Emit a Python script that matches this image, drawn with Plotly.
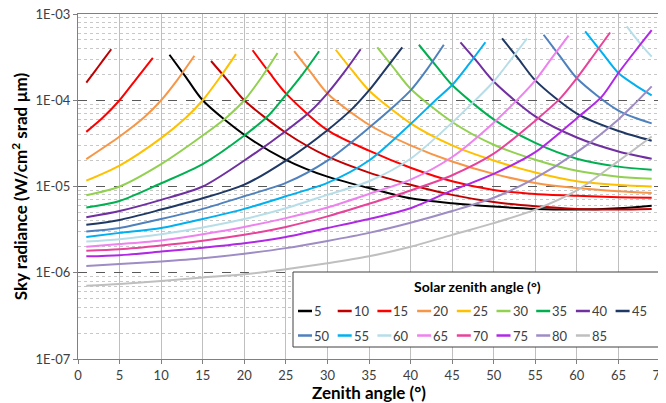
import plotly.graph_objects as go

# ---------------- data ----------------
x_tickvals = [0, 5, 10, 15, 20, 25, 30, 35, 40, 45, 50, 55, 60, 65, 70]
y_tickvals = [1e-7, 1e-6, 1e-5, 1e-4, 1e-3]
y_ticktext = ["1E-07", "1E-06", "1E-05", "1E-04", "1E-03"]

solar_zenith = [5, 10, 15, 20, 25, 30, 35, 40, 45, 50, 55, 60, 65, 70, 75, 80, 85]
line_colors = ["#000000", "#C00000", "#FF0000", "#F79646", "#FFC000", "#92D050",
               "#00B050", "#7030A0", "#1F3864", "#4F81BD", "#00B0F0", "#B7DEE8",
               "#EE82EE", "#E8439A", "#B028E6", "#9E8CC4", "#BFBFBF"]

# rising branches (view zenith below the sun)
rise_x_10 = [1, 2, 3, 4]
rise_y_10 = [1.6e-4, 2.15e-4, 2.9e-4, 3.9e-4]
rise_x_15 = [1, 3, 5, 7, 9]
rise_y_15 = [4.3e-5, 6.3e-5, 1.0e-4, 1.76e-4, 3.1e-4]
rise_x_20 = [1, 5, 8, 10, 12, 14]
rise_y_20 = [2.08e-5, 3.8e-5, 6.4e-5, 1.0e-4, 1.75e-4, 3.28e-4]
rise_x_25 = [1, 5, 10, 13, 15, 17, 19]
rise_y_25 = [1.17e-5, 1.75e-5, 3.64e-5, 6.3e-5, 1.0e-4, 1.8e-4, 3.43e-4]
rise_x_30 = [1, 5, 10, 15, 18, 20, 22, 24]
rise_y_30 = [7.9e-6, 1.0e-5, 1.82e-5, 3.9e-5, 6.5e-5, 1.0e-4, 1.8e-4, 3.53e-4]
rise_x_35 = [1, 5, 10, 15, 20, 23, 25, 27, 29]
rise_y_35 = [5.7e-6, 6.8e-6, 1.09e-5, 1.82e-5, 3.9e-5, 6.8e-5, 1.15e-4, 2.0e-4, 3.7e-4]
rise_x_40 = [1, 5, 10, 15, 20, 25, 28, 30, 32, 34]
rise_y_40 = [4.4e-6, 5.2e-6, 7.0e-6, 1.0e-5, 2.0e-5, 4.4e-5, 7.5e-5, 1.2e-4, 2.1e-4, 3.9e-4]
rise_x_45 = [1, 5, 10, 15, 20, 25, 30, 33, 35, 37, 39]
rise_y_45 = [3.6e-6, 4.1e-6, 5.4e-6, 7.3e-6, 1.05e-5, 2.0e-5, 4.5e-5, 8.0e-5, 1.3e-4, 2.3e-4, 4.1e-4]
rise_x_50 = [1, 5, 10, 15, 20, 25, 30, 35, 38, 40, 42, 44]
rise_y_50 = [3.0e-6, 3.3e-6, 4.2e-6, 5.5e-6, 7.7e-6, 1.1e-5, 2.0e-5, 4.8e-5, 8.5e-5, 1.3e-4, 2.3e-4, 4.4e-4]
rise_x_55 = [1, 5, 10, 15, 20, 25, 30, 35, 40, 43, 45, 47, 49]
rise_y_55 = [2.6e-6, 2.9e-6, 3.3e-6, 4.2e-6, 5.5e-6, 7.7e-6, 1.1e-5, 2.0e-5, 5.3e-5, 1.0e-4, 1.5e-4, 2.6e-4, 4.7e-4]
rise_x_60 = [1, 5, 10, 15, 20, 25, 30, 35, 40, 45, 48, 50, 52, 54]
rise_y_60 = [2.3e-6, 2.45e-6, 2.8e-6, 3.35e-6, 4.2e-6, 5.6e-6, 8.0e-6, 1.15e-5, 2.1e-5, 5.5e-5, 1.05e-4, 1.65e-4, 2.9e-4, 5.2e-4]
rise_x_65 = [1, 5, 10, 15, 20, 25, 30, 35, 40, 45, 50, 53, 55, 57, 59]
rise_y_65 = [2.0e-6, 2.15e-6, 2.37e-6, 2.8e-6, 3.4e-6, 4.3e-6, 5.7e-6, 8.2e-6, 1.2e-5, 2.2e-5, 5.5e-5, 1.05e-4, 1.7e-4, 3.1e-4, 5.6e-4]
rise_x_70 = [1, 5, 10, 15, 20, 25, 30, 35, 40, 45, 50, 55, 58, 60, 62, 64]
rise_y_70 = [1.8e-6, 1.87e-6, 2.07e-6, 2.35e-6, 2.75e-6, 3.4e-6, 4.5e-6, 6.3e-6, 9.0e-6, 1.35e-5, 2.4e-5, 5.8e-5, 1.05e-4, 1.8e-4, 3.3e-4, 6.1e-4]
rise_x_75 = [1, 5, 10, 15, 20, 25, 30, 35, 40, 45, 50, 55, 60, 63, 65, 67, 69]
rise_y_75 = [1.55e-6, 1.6e-6, 1.76e-6, 1.95e-6, 2.2e-6, 2.6e-6, 3.3e-6, 4.2e-6, 5.6e-6, 9.0e-6, 1.4e-5, 2.5e-5, 6.2e-5, 1.1e-4, 2.07e-4, 3.7e-4, 6.5e-4]
rise_x_80 = [1, 5, 10, 15, 20, 25, 30, 35, 40, 45, 50, 55, 60, 65, 67, 69]
rise_y_80 = [1.2e-6, 1.26e-6, 1.35e-6, 1.47e-6, 1.66e-6, 1.93e-6, 2.34e-6, 2.9e-6, 3.8e-6, 5.2e-6, 7.4e-6, 1.25e-5, 2.5e-5, 6.0e-5, 9.2e-5, 1.45e-4]
rise_x_85 = [1, 5, 10, 15, 20, 25, 30, 35, 40, 45, 50, 55, 60, 65, 69]
rise_y_85 = [7.05e-7, 7.4e-7, 8.05e-7, 8.8e-7, 9.6e-7, 1.1e-6, 1.29e-6, 1.55e-6, 2.0e-6, 2.75e-6, 3.76e-6, 5.4e-6, 9.0e-6, 1.97e-5, 3.8e-5]

# falling branches (view zenith beyond the sun)
fall_x_5 = [11, 13, 15, 20, 25, 30, 35, 40, 45, 50, 55, 60, 65, 69]
fall_y_5 = [3.37e-4, 1.84e-4, 1.0e-4, 3.98e-5, 2.04e-5, 1.3e-5, 9.6e-6, 7.3e-6, 6.4e-6, 5.86e-6, 5.5e-6, 5.4e-6, 5.6e-6, 6.0e-6]
fall_x_10 = [16, 18, 20, 25, 30, 35, 40, 45, 50, 55, 60, 65, 69]
fall_y_10 = [2.85e-4, 1.7e-4, 1.0e-4, 4.2e-5, 2.23e-5, 1.45e-5, 1.05e-5, 8.0e-6, 6.6e-6, 5.9e-6, 5.5e-6, 5.4e-6, 5.5e-6]
fall_x_15 = [21, 23, 25, 30, 35, 40, 45, 50, 55, 60, 65, 69]
fall_y_15 = [3.8e-4, 2.1e-4, 1.2e-4, 4.5e-5, 2.6e-5, 1.65e-5, 1.15e-5, 9.1e-6, 8.2e-6, 7.8e-6, 7.5e-6, 7.4e-6]
fall_x_20 = [26, 28, 30, 35, 40, 45, 50, 55, 60, 65, 69]
fall_y_20 = [3.7e-4, 2.1e-4, 1.2e-4, 5.2e-5, 3.0e-5, 1.95e-5, 1.4e-5, 1.1e-5, 9.6e-6, 8.8e-6, 8.4e-6]
fall_x_25 = [31, 33, 35, 40, 45, 50, 55, 60, 65, 69]
fall_y_25 = [3.85e-4, 2.2e-4, 1.3e-4, 5.4e-5, 3.0e-5, 2.0e-5, 1.45e-5, 1.15e-5, 1.04e-5, 1.0e-5]
fall_x_30 = [36, 38, 40, 45, 50, 55, 60, 65, 69]
fall_y_30 = [4.1e-4, 2.35e-4, 1.36e-4, 5.6e-5, 3.05e-5, 2.04e-5, 1.52e-5, 1.3e-5, 1.23e-5]
fall_x_35 = [41, 43, 45, 50, 55, 60, 65, 69]
fall_y_35 = [4.4e-4, 2.55e-4, 1.5e-4, 6.0e-5, 3.2e-5, 2.1e-5, 1.7e-5, 1.56e-5]
fall_x_40 = [46, 48, 50, 55, 60, 65, 69]
fall_y_40 = [4.7e-4, 2.8e-4, 1.65e-4, 6.5e-5, 3.7e-5, 2.55e-5, 2.1e-5]
fall_x_45 = [51, 53, 55, 60, 65, 69]
fall_y_45 = [5.2e-4, 3.0e-4, 1.7e-4, 7.0e-5, 4.4e-5, 3.4e-5]
fall_x_50 = [56, 58, 60, 65, 69]
fall_y_50 = [5.75e-4, 3.2e-4, 1.8e-4, 7.6e-5, 5.4e-5]
fall_x_55 = [61, 63, 65, 67, 69]
fall_y_55 = [6.3e-4, 3.6e-4, 2.07e-4, 1.5e-4, 1.14e-4]
fall_x_60 = [66, 67, 68, 69]
fall_y_60 = [7.2e-4, 5.4e-4, 4.1e-4, 3.2e-4]

rise = {10: (rise_x_10, rise_y_10), 15: (rise_x_15, rise_y_15), 20: (rise_x_20, rise_y_20),
        25: (rise_x_25, rise_y_25), 30: (rise_x_30, rise_y_30), 35: (rise_x_35, rise_y_35),
        40: (rise_x_40, rise_y_40), 45: (rise_x_45, rise_y_45), 50: (rise_x_50, rise_y_50),
        55: (rise_x_55, rise_y_55), 60: (rise_x_60, rise_y_60), 65: (rise_x_65, rise_y_65),
        70: (rise_x_70, rise_y_70), 75: (rise_x_75, rise_y_75), 80: (rise_x_80, rise_y_80),
        85: (rise_x_85, rise_y_85)}
fall = {5: (fall_x_5, fall_y_5), 10: (fall_x_10, fall_y_10), 15: (fall_x_15, fall_y_15),
        20: (fall_x_20, fall_y_20), 25: (fall_x_25, fall_y_25), 30: (fall_x_30, fall_y_30),
        35: (fall_x_35, fall_y_35), 40: (fall_x_40, fall_y_40), 45: (fall_x_45, fall_y_45),
        50: (fall_x_50, fall_y_50), 55: (fall_x_55, fall_y_55), 60: (fall_x_60, fall_y_60)}

# ---------------- figure ----------------
FONT = "Lato, Carlito, 'Open Sans', sans-serif"
OFF = 8                       # default page-body margin of the written html
W, H = 666 - OFF, 403 - OFF
ML, MR, MT, MB = 78 - OFF, 6, 14 - OFF, 44
PW, PH = W - ML - MR, H - MT - MB

fig = go.Figure()
for sza, col in zip(solar_zenith, line_colors):
    for branch in (rise, fall):
        if sza in branch:
            bx, by = branch[sza]
            fig.add_trace(go.Scatter(
                x=bx, y=by, mode="lines", name=str(sza), legendgroup=str(sza),
                showlegend=False,
                line=dict(color=col, width=2, shape="spline", smoothing=0.8),
                hovertemplate="SZA %s°<br>%%{x}°, %%{y:.2e}<extra></extra>" % sza))

minor_vals = [m * 10.0 ** e for e in range(-7, -3) for m in range(2, 10)]

fig.update_layout(
    width=W, height=H,
    margin=dict(l=ML, r=MR, t=MT, b=MB, autoexpand=False),
    paper_bgcolor="white", plot_bgcolor="white",
    font=dict(family=FONT, size=13, color="#404040"),
    showlegend=False,
    xaxis=dict(
        range=[0, 70], tickmode="array", tickvals=x_tickvals, showgrid=True, gridcolor="#BFBFBF",
        gridwidth=1, zeroline=False, showline=True, linecolor="#808080", mirror=True,
        ticks="outside", ticklen=4, tickcolor="#808080", automargin=False,
        ticklabeloverflow="allow",
        tickfont=dict(size=13, color="#404040", family=FONT),
        title=dict(text="<b>Zenith angle (°)</b>", font=dict(size=17, color="#000000", family=FONT),
                   standoff=4),
    ),
    yaxis=dict(
        type="log", range=[-7, -3], tickmode="array", tickvals=y_tickvals, ticktext=y_ticktext,
        showgrid=True, gridcolor="#595959", griddash="dash", gridwidth=1,
        zeroline=False, showline=True, linecolor="#808080", mirror=True,
        ticks="outside", ticklen=4, tickcolor="#808080", automargin=False,
        ticklabeloverflow="allow",
        tickfont=dict(size=13, color="#404040", family=FONT),
        minor=dict(tickmode="array", tickvals=minor_vals, showgrid=True,
                   gridcolor="#C8C8C8", griddash="dot", gridwidth=1, ticks=""),
        title=dict(text="<b>Sky radiance (W/cm<sup>2</sup> srad µm)</b>",
                   font=dict(size=17, color="#000000", family=FONT), standoff=11),
    ),
)

# ---------------- custom legend box (page-pixel layout -> paper coords) ----------------
def px_x(px):
    return (px - OFF - ML) / PW

def px_y(py):
    return (H - MB - (py - OFF)) / PH

shapes = [dict(type="rect", xref="paper", yref="paper",
               x0=px_x(293), x1=px_x(660), y0=px_y(347), y1=px_y(272),
               fillcolor="white", line=dict(color="#404040", width=1), layer="above")]
annotations = [dict(text="<b>Solar zenith angle (°)</b>", xref="paper", yref="paper",
                    x=px_x(477), y=px_y(286), xanchor="center", yanchor="middle",
                    showarrow=False, font=dict(size=14, color="#000000", family=FONT))]
col_w = 39.7
for i, (sza, col) in enumerate(zip(solar_zenith, line_colors)):
    row, c = divmod(i, 9)
    lx = 298 + c * col_w
    ly = 311 + row * 24.5
    shapes.append(dict(type="line", xref="paper", yref="paper",
                       x0=px_x(lx), x1=px_x(lx + 14), y0=px_y(ly), y1=px_y(ly),
                       line=dict(color=col, width=2.5), layer="above"))
    annotations.append(dict(text=str(sza), xref="paper", yref="paper",
                            x=px_x(lx + 14), y=px_y(ly), xanchor="left", yanchor="middle",
                            showarrow=False, font=dict(size=13, color="#404040", family=FONT)))

fig.update_layout(shapes=shapes, annotations=annotations)
fig.write_html("out.html")
